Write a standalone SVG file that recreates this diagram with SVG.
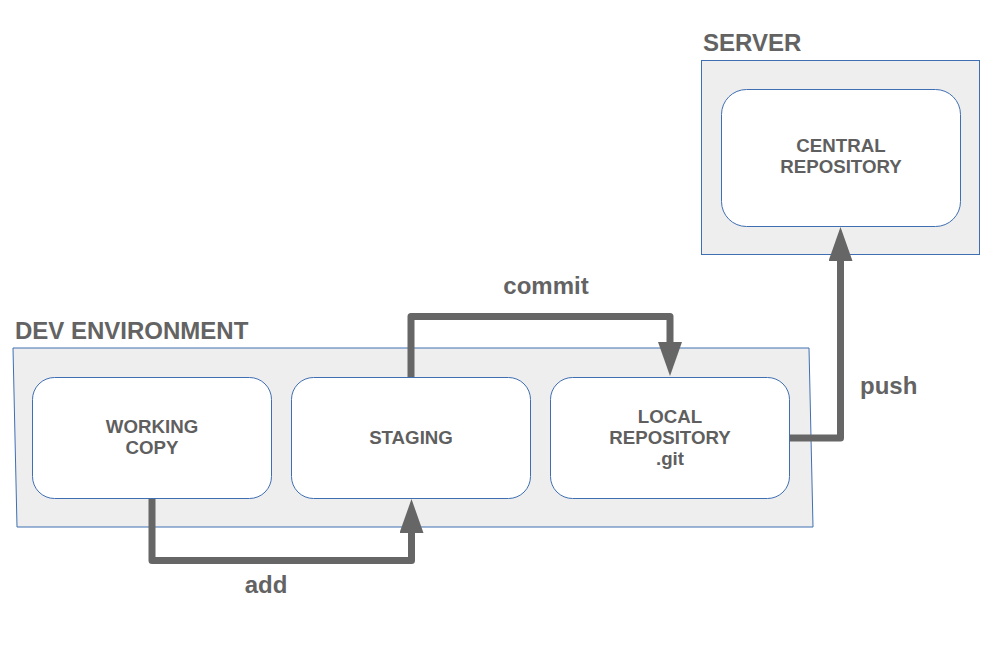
<svg xmlns="http://www.w3.org/2000/svg" width="997" height="647" viewBox="0 0 997 647">
  <defs>
    <style>
      .area { fill: #eeeeee; stroke: #3f6fb2; stroke-width: 1; }
      .node { fill: #ffffff; stroke: #3f6fb2; stroke-width: 1; }
      .title { font-family: "Liberation Sans", Arial, sans-serif; font-weight: bold; font-size: 24px; fill: #636363; }
      .label { font-family: "Liberation Sans", Arial, sans-serif; font-weight: bold; font-size: 18.7px; fill: #5f5f5f; text-anchor: middle; }
      .edge { fill: none; stroke: #666666; stroke-width: 7; stroke-linejoin: round; }
      .edge-label { font-family: "Liberation Sans", Arial, sans-serif; font-weight: bold; font-size: 24px; fill: #636363; }
    </style>
    <marker id="arrow" viewBox="0 0 34 24" refX="0" refY="12" markerWidth="34" markerHeight="24" markerUnits="userSpaceOnUse" orient="auto">
      <path d="M0,0 L34,12 L0,24 Z" fill="#666666"/>
    </marker>
  </defs>

  <rect width="997" height="647" fill="#ffffff"/>

  <!-- environments -->
  <g id="dev-environment">
    <polygon class="area" points="13,348 809,348 813,527 17,527"/>
    <text class="title" x="15" y="339">DEV ENVIRONMENT</text>
  </g>
  <g id="server">
    <rect class="area" x="701.5" y="60.5" width="278" height="194"/>
    <text class="title" x="703" y="51">SERVER</text>
  </g>

  <!-- repositories / areas -->
  <g id="working-copy">
    <rect class="node" x="32.5" y="377.5" width="239" height="121" rx="22"/>
    <text class="label" x="152" y="433">WORKING</text>
    <text class="label" x="152" y="454">COPY</text>
  </g>
  <g id="staging">
    <rect class="node" x="291.5" y="377.5" width="239" height="121" rx="22"/>
    <text class="label" x="411" y="444">STAGING</text>
  </g>
  <g id="local-repository">
    <rect class="node" x="550.5" y="377.5" width="239" height="121" rx="22"/>
    <text class="label" x="670" y="423">LOCAL</text>
    <text class="label" x="670" y="444">REPOSITORY</text>
    <text class="label" x="670" y="465">.git</text>
  </g>
  <g id="central-repository">
    <rect class="node" x="721.5" y="89.5" width="239" height="137" rx="25"/>
    <text class="label" x="841" y="152">CENTRAL</text>
    <text class="label" x="841" y="173">REPOSITORY</text>
  </g>

  <!-- connectors -->
  <g id="connectors">
    <path class="edge" d="M152,499 V560.5 H411.5 V533" marker-end="url(#arrow)"/>
    <path class="edge" d="M411,377 V316.5 H670 V342" marker-end="url(#arrow)"/>
    <path class="edge" d="M790,438 H840.5 V261" marker-end="url(#arrow)"/>
    <text class="edge-label" x="266" y="593" text-anchor="middle">add</text>
    <text class="edge-label" x="546" y="294" text-anchor="middle">commit</text>
    <text class="edge-label" x="860" y="394">push</text>
  </g>
</svg>
